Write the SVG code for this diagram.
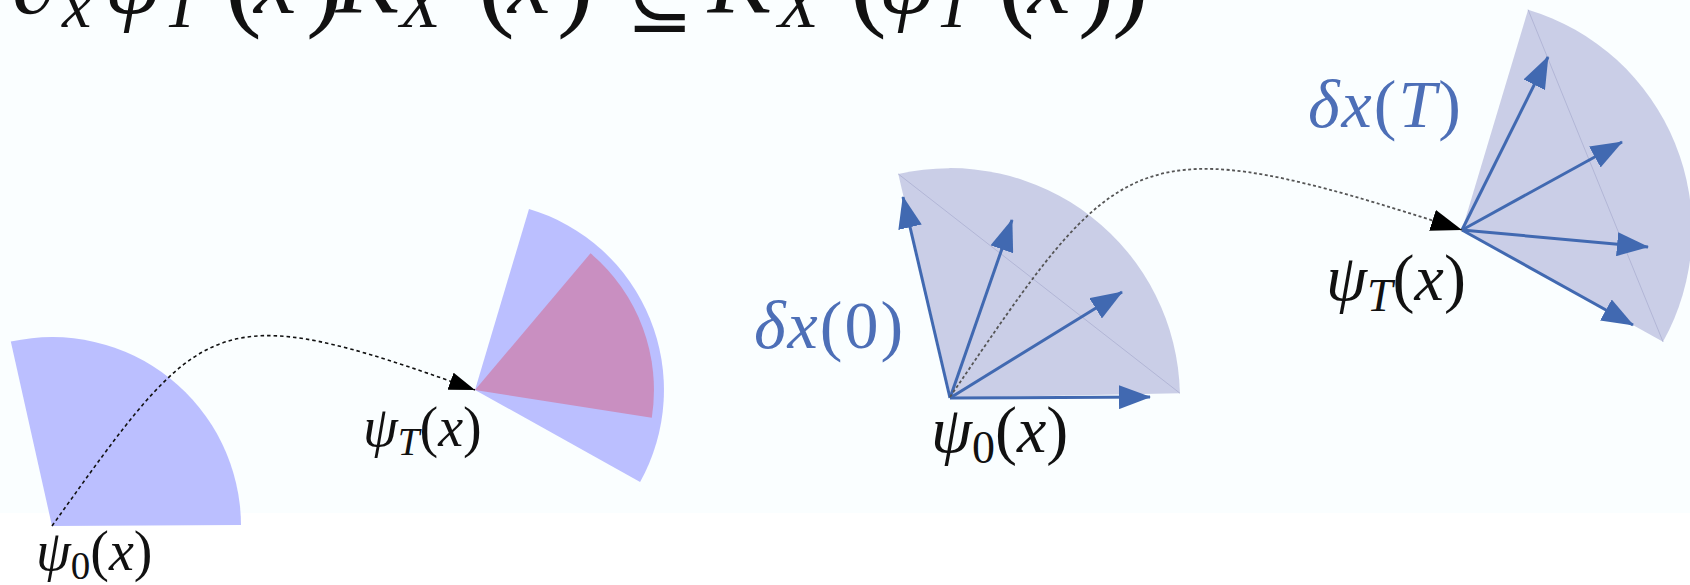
<svg xmlns="http://www.w3.org/2000/svg" width="1690" height="585" viewBox="0 0 1690 585">
<defs>
<style>
.m{font-family:"Liberation Serif","DejaVu Serif",serif;fill:#111}
.i{font-style:italic}
.b{fill:#4D6FB7}
.lav{fill:#BBBFFF}
.pink{fill:#C98FC1}
.gray{fill:#CACEE7}
.chord{stroke:#B2B6D6;stroke-width:1;fill:none}
.vec{stroke:#4169B1;stroke-width:3;fill:none;marker-end:url(#va)}
.traj1{stroke:#111;stroke-width:1.6;stroke-dasharray:3.5 3;fill:none;marker-end:url(#ka1)}
.traj2{stroke:#555;stroke-width:1.8;stroke-dasharray:3 2.5;fill:none;marker-end:url(#ka2)}
</style>
<marker id="va" markerUnits="userSpaceOnUse" markerWidth="32" markerHeight="24" viewBox="0 0 32 24" refX="31" refY="12" orient="auto"><path d="M0,0 L32,12 L0,24 Z" fill="#4169B1"/></marker>
<marker id="ka1" markerUnits="userSpaceOnUse" markerWidth="26" markerHeight="18" viewBox="0 0 26 18" refX="26" refY="9" orient="auto"><path d="M0,0 L26,9 L0,18 Z" fill="#000"/></marker>
<marker id="ka2" markerUnits="userSpaceOnUse" markerWidth="31" markerHeight="22" viewBox="0 0 31 22" refX="31" refY="11" orient="auto"><path d="M0,0 L31,11 L0,22 Z" fill="#000"/></marker>
</defs>
<rect width="1690" height="585" fill="#FFFFFF"/>
<rect width="1690" height="513" fill="#FAFEFF"/>

<g id="formula">
<text class="m" font-size="96">
<tspan class="i" x="12" y="13">∂</tspan>
<tspan class="i" x="62" y="27" font-size="66">x</tspan>
<tspan class="i" x="104" y="13">ψ</tspan>
<tspan class="i" x="163" y="27" font-size="66">T</tspan>
<tspan x="225" y="16" font-size="110">(</tspan>
<tspan class="i" x="254" y="13">x</tspan>
<tspan x="306" y="16" font-size="110">)</tspan>
<tspan class="i" x="336" y="13">K</tspan>
<tspan class="i" x="400" y="27" font-size="66">X</tspan>
<tspan x="478" y="16" font-size="110">(</tspan>
<tspan class="i" x="508" y="13">x</tspan>
<tspan x="557" y="16" font-size="110">)</tspan>
<tspan x="626" y="26" font-size="80" font-family="DejaVu Serif">⊆</tspan>
<tspan class="i" x="708" y="13">K</tspan>
<tspan class="i" x="778" y="27" font-size="66">X</tspan>
<tspan x="850" y="16" font-size="110">(</tspan>
<tspan class="i" x="878" y="13">ψ</tspan>
<tspan class="i" x="935" y="27" font-size="66">T</tspan>
<tspan x="998" y="16" font-size="110">(</tspan>
<tspan class="i" x="1028" y="13">x</tspan>
<tspan x="1078" y="16" font-size="110">)</tspan>
<tspan x="1112" y="16" font-size="110">)</tspan>
</text>
</g>

<g id="fan-left-start">
<path class="lav" d="M52,526 L241,525 A189,189 0 0,0 10.8,341.6 Z"/>
</g>
<g id="fan-left-end">
<path class="lav" d="M475,390 L640.1,481.9 A189,189 0 0,0 529,208.9 Z"/>
<path class="pink" d="M475,390 L651.8,417.7 A179,179 0 0,0 590.5,253.3 Z"/>
</g>

<g id="fan-right-start">
<path class="gray" d="M950,398 L1179.9,393.2 A230,230 0 0,0 898.3,174 Z"/>
<line class="chord" x1="898.3" y1="174" x2="1179.9" y2="393.2"/>
<g id="vectors-0">
<line class="vec" x1="950" y1="398" x2="903" y2="197"/>
<line class="vec" x1="950" y1="398" x2="1012" y2="220"/>
<line class="vec" x1="950" y1="398" x2="1122" y2="292"/>
<line class="vec" x1="950" y1="398" x2="1150" y2="397"/>
</g>
</g>

<g id="fan-right-end">
<path class="gray" d="M1462,230 L1663,341.8 A230,230 0 0,0 1528.1,9.7 Z"/>
<line class="chord" x1="1528.1" y1="9.7" x2="1663" y2="341.8"/>
<g id="vectors-T">
<line class="vec" x1="1462" y1="230" x2="1548" y2="57"/>
<line class="vec" x1="1462" y1="230" x2="1622" y2="142"/>
<line class="vec" x1="1462" y1="230" x2="1648" y2="247"/>
<line class="vec" x1="1462" y1="230" x2="1633" y2="325"/>
</g>
</g>

<g id="connectors">
<path class="traj1" d="M52,526 C203,315 212,295 475,390"/>
<path class="traj2" d="M950,397 C1122,145 1130,122 1462,230"/>
</g>

<g id="label-psi0-left">
<text class="m" x="36" y="570" font-size="56"><tspan class="i">ψ</tspan><tspan font-size="39" dy="9">0</tspan><tspan dy="-9">(</tspan><tspan class="i">x</tspan>)</text>
</g>
<g id="label-psiT-left">
<text class="m" x="363" y="446" font-size="56"><tspan class="i">ψ</tspan><tspan class="i" font-size="39" dy="9">T</tspan><tspan dy="-9">(</tspan><tspan class="i">x</tspan>)</text>
</g>
<g id="label-dx0">
<text class="m b" x="754" y="348" font-size="68" letter-spacing="2"><tspan class="i">δx</tspan>(0)</text>
</g>
<g id="label-psi0-right">
<text class="m" x="931" y="452" font-size="66"><tspan class="i">ψ</tspan><tspan font-size="46" dy="11">0</tspan><tspan dy="-11">(</tspan><tspan class="i">x</tspan>)</text>
</g>
<g id="label-dxT">
<text class="m b" x="1308" y="127" font-size="68" letter-spacing="2"><tspan class="i">δx</tspan>(<tspan class="i">T</tspan>)</text>
</g>
<g id="label-psiT-right">
<text class="m" x="1326" y="300" font-size="66"><tspan class="i">ψ</tspan><tspan class="i" font-size="46" dy="11">T</tspan><tspan dy="-11">(</tspan><tspan class="i">x</tspan>)</text>
</g>
</svg>
